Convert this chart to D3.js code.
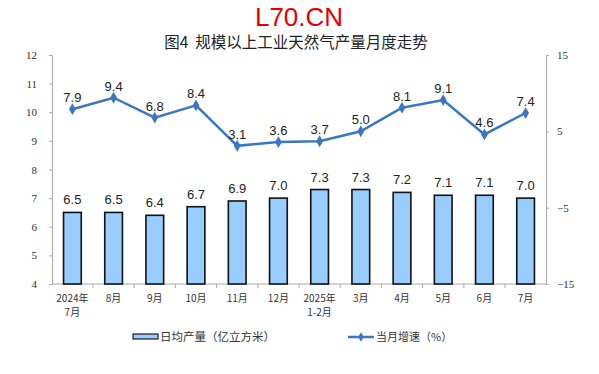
<!DOCTYPE html>
<html>
<head>
<meta charset="utf-8">
<script src="https://cdn.jsdelivr.net/npm/d3@7"></script>
<style>
  body { margin: 0; background: #fff; }
  svg { display: block; }
</style>
</head>
<body>
<div id="chart"></div>
<script>
// categories and values
var months = ["2024年|7月", "8月", "9月", "10月", "11月", "12月", "2025年|1-2月", "3月", "4月", "5月", "6月", "7月"];
var dailyOutput = [6.5, 6.5, 6.4, 6.7, 6.9, 7.0, 7.3, 7.3, 7.2, 7.1, 7.1, 7.0];
var monthGrowth = [7.9, 9.4, 6.8, 8.4, 3.1, 3.6, 3.7, 5.0, 8.1, 9.1, 4.6, 7.4];
var leftTicks = [4, 5, 6, 7, 8, 9, 10, 11, 12];
var rightTicks = [-15, -5, 5, 15];

var svgWidth = 599, svgHeight = 374;
var margin = { top: 55, right: 53, bottom: 90, left: 52 };
var width = svgWidth - margin.left - margin.right;
var height = svgHeight - margin.top - margin.bottom;

var svg = d3.select("#chart").append("svg")
  .attr("width", svgWidth)
  .attr("height", svgHeight);

// watermark + title
svg.append("text")
  .attr("x", 299).attr("y", 26)
  .attr("text-anchor", "middle")
  .attr("font-family", "Liberation Sans, Arial, sans-serif")
  .attr("font-size", 26)
  .attr("fill", "#e60000")
  .text("L70.CN");

svg.append("text")
  .attr("x", 296).attr("y", 48)
  .attr("text-anchor", "middle")
  .attr("font-family", "Noto Sans CJK SC, sans-serif")
  .attr("font-size", 15.5)
  .attr("fill", "#222")
  .style("white-space", "pre")
  .text("图4  规模以上工业天然气产量月度走势");

var g = svg.append("g")
  .attr("transform", `translate(${margin.left}, ${margin.top})`);

var x = d3.scaleBand()
  .domain(months)
  .range([0, width])
  .paddingInner(0.57)
  .paddingOuter(0.28);

var yLeft = d3.scaleLinear().domain([4, 12]).range([height, 0]);
var yRight = d3.scaleLinear().domain([-15, 15]).range([height, 0]);

// left axis
var leftAxis = d3.axisLeft(yLeft).tickValues(leftTicks).tickSize(3).tickPadding(12);
var la = g.append("g").call(leftAxis);
la.selectAll("text")
  .attr("font-family", "Liberation Serif, Times New Roman, serif")
  .attr("font-size", 11).attr("fill", "#333");

// right axis
var rightAxis = d3.axisRight(yRight).tickValues(rightTicks).tickSize(3).tickPadding(8);
var ra = g.append("g").attr("transform", `translate(${width}, 0)`).call(rightAxis);
ra.selectAll("text")
  .attr("font-family", "Liberation Serif, Times New Roman, serif")
  .attr("font-size", 11).attr("fill", "#333");

[la, ra].forEach(function(a) {
  a.select(".domain").attr("stroke", "#aaa");
  a.selectAll(".tick line").attr("stroke", "#aaa");
});

// bottom axis line + ticks between categories
g.append("line")
  .attr("x1", 0).attr("x2", width)
  .attr("y1", height).attr("y2", height)
  .attr("stroke", "#aaa");

var step = x.step();
var bounds = d3.range(1, months.length);
g.selectAll(".sep")
  .data(bounds)
  .enter().append("line")
  .attr("x1", d => x(months[d]) - step * x.paddingInner() / 2)
  .attr("x2", d => x(months[d]) - step * x.paddingInner() / 2)
  .attr("y1", height).attr("y2", height + 4)
  .attr("stroke", "#aaa");

// category labels
var cats = g.selectAll(".cat")
  .data(months)
  .enter().append("text")
  .attr("text-anchor", "middle")
  .attr("font-family", "Noto Sans CJK SC, sans-serif")
  .attr("font-size", 10)
  .attr("fill", "#333");
cats.each(function(d) {
  var parts = d.split("|");
  var t = d3.select(this);
  parts.forEach(function(p, i) {
    t.append("tspan")
      .attr("x", x(d) + x.bandwidth() / 2)
      .attr("y", height + 18 + i * 14)
      .text(p);
  });
});

// bars
g.selectAll(".bar")
  .data(dailyOutput)
  .enter().append("rect")
  .attr("x", (d, i) => x(months[i]))
  .attr("y", d => yLeft(d))
  .attr("width", x.bandwidth())
  .attr("height", d => height - yLeft(d))
  .attr("fill", "#99ccff")
  .attr("stroke", "#111")
  .attr("stroke-width", 1.6);

g.selectAll(".barLabel")
  .data(dailyOutput)
  .enter().append("text")
  .attr("x", (d, i) => x(months[i]) + x.bandwidth() / 2)
  .attr("y", d => yLeft(d) - 8)
  .attr("text-anchor", "middle")
  .attr("font-family", "Liberation Sans, Arial, sans-serif")
  .attr("font-size", 13)
  .attr("fill", "#222")
  .text(d => d.toFixed(1));

// growth line
var line = d3.line()
  .x((d, i) => x(months[i]) + x.bandwidth() / 2)
  .y(d => yRight(d));

g.append("path")
  .datum(monthGrowth)
  .attr("d", line)
  .attr("fill", "none")
  .attr("stroke", "#3a76c4")
  .attr("stroke-width", 2.5);

var diamond = d3.symbol().type(d3.symbolDiamond).size(40);
g.selectAll(".pt")
  .data(monthGrowth)
  .enter().append("path")
  .attr("d", diamond)
  .attr("transform", (d, i) => `translate(${x(months[i]) + x.bandwidth() / 2}, ${yRight(d)})`)
  .attr("fill", "#3a76c4");

g.selectAll(".lineLabel")
  .data(monthGrowth)
  .enter().append("text")
  .attr("x", (d, i) => x(months[i]) + x.bandwidth() / 2)
  .attr("y", d => yRight(d) - 7)
  .attr("text-anchor", "middle")
  .attr("font-family", "Liberation Sans, Arial, sans-serif")
  .attr("font-size", 13)
  .attr("fill", "#222")
  .text(d => d.toFixed(1));

// legend
var legend = svg.append("g").attr("transform", "translate(0, 337)");
legend.append("rect")
  .attr("x", 133).attr("y", -3)
  .attr("width", 25).attr("height", 5)
  .attr("fill", "#99ccff")
  .attr("stroke", "#1a1a1a")
  .attr("stroke-width", 1.2);
legend.append("text")
  .attr("x", 160).attr("y", 4)
  .attr("font-family", "Noto Sans CJK SC, sans-serif")
  .attr("font-size", 11.5)
  .attr("fill", "#333")
  .text("日均产量（亿立方米）");

legend.append("line")
  .attr("x1", 348).attr("x2", 374)
  .attr("y1", 0).attr("y2", 0)
  .attr("stroke", "#3a76c4")
  .attr("stroke-width", 2.5);
legend.append("path")
  .attr("d", d3.symbol().type(d3.symbolDiamond).size(25))
  .attr("transform", "translate(361, 0)")
  .attr("fill", "#3a76c4");
legend.append("text")
  .attr("x", 376).attr("y", 4)
  .attr("font-family", "Noto Sans CJK SC, sans-serif")
  .attr("font-size", 11)
  .attr("fill", "#333")
  .text("当月增速（%）");
</script>
</body>
</html>
